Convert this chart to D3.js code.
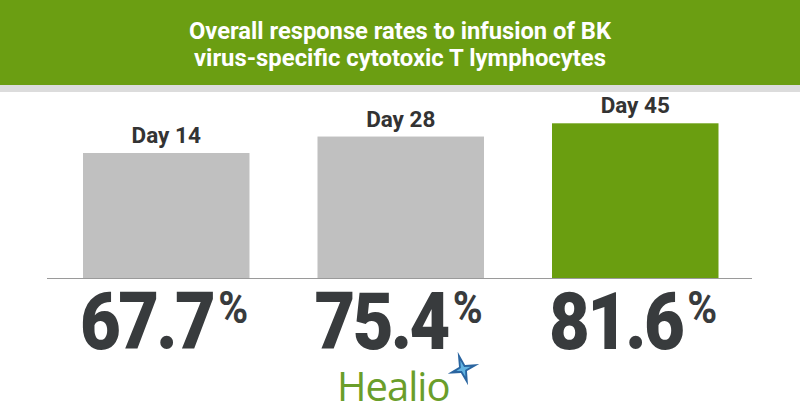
<!DOCTYPE html>
<html><head><meta charset="utf-8">
<script src="https://cdn.jsdelivr.net/npm/d3@7"></script>
<style>html,body{margin:0;padding:0;background:#fff;}svg{display:block;}</style>
</head><body>
<svg id="chart" width="800" height="420"></svg>
<script>
const categories = ["Day 14", "Day 28", "Day 45"];
const values = [67.7, 75.4, 81.6];
const valueLabels = ["67.7", "75.4", "81.6"];
const barColors = ["#c0c0c0", "#c0c0c0", "#6a9e10"];
const titleLines = ["Overall response rates to infusion of BK", "virus-specific cytotoxic T lymphocytes"];

const svg = d3.select("#chart");
const W = 800, H = 420;

// header
svg.append("rect").attr("x",0).attr("y",0).attr("width",W).attr("height",85).attr("fill","#6b9e12");
svg.append("rect").attr("x",0).attr("y",85).attr("width",W).attr("height",7).attr("fill","#dcdcdc");

const titleLens = [422, 412];
svg.selectAll("text.title").data(titleLines).join("text")
  .attr("class","title")
  .attr("x",400).attr("y",(d,i)=>39 + i*27)
  .attr("text-anchor","middle")
  .attr("font-family","Roboto, 'Open Sans', sans-serif")
  .attr("font-weight",700)
  .attr("font-size",23.5)
  .attr("fill","#ffffff")
  .attr("textLength",(d,i)=>titleLens[i])
  .attr("lengthAdjust","spacingAndGlyphs")
  .text(d=>d);

// scales
const x = d3.scaleBand().domain(categories).range([83, 718.5]).paddingInner(0.29).paddingOuter(0);
const baseY = 278;
const y = d3.scaleLinear().domain([9.2, 81.6]).range([baseY, 123.3]);

const g = svg.append("g");
g.selectAll("rect.bar").data(values).join("rect")
  .attr("class","bar")
  .attr("x",(d,i)=>x(categories[i]))
  .attr("y",d=>y(d))
  .attr("width",x.bandwidth())
  .attr("height",d=>baseY - y(d))
  .attr("fill",(d,i)=>barColors[i]);

// baseline
svg.append("line").attr("x1",47).attr("x2",752).attr("y1",baseY+0.5).attr("y2",baseY+0.5)
  .attr("stroke","#9a9a9a").attr("stroke-width",1.2);

// category labels
g.selectAll("text.cat").data(categories).join("text")
  .attr("class","cat")
  .attr("x",d=>x(d)+x.bandwidth()/2)
  .attr("y",(d,i)=>y(values[i]) - 10)
  .attr("text-anchor","middle")
  .attr("font-family","Roboto, sans-serif")
  .attr("font-weight",700)
  .attr("font-size",22.5)
  .attr("fill","#333333")
  .text(d=>d);

// value labels
const sx = 0.88;
valueLabels.forEach((v,i)=>{
  const x0 = x(categories[i]) - 3;
  const t = svg.append("text")
    .attr("transform",`translate(${x0},349) scale(${sx},1)`)
    .attr("font-family","Roboto, sans-serif")
    .attr("font-weight",900)
    .attr("font-size",80)
    .attr("letter-spacing",-3)
    .attr("fill","#383b3d")
    .text(v);
  const w = t.node().getComputedTextLength()*sx;
  svg.append("text")
    .attr("transform",`translate(${x0 + w + 5},323) scale(0.9,1)`)
    .attr("font-family","Roboto, sans-serif")
    .attr("font-weight",700)
    .attr("font-size",45)
    .attr("fill","#383b3d")
    .text("%");
});

// Healio logo
svg.append("text").attr("x",337).attr("y",401)
  .attr("font-family","'Open Sans', sans-serif")
  .attr("font-weight",400)
  .attr("font-size",40)
  .attr("fill","#6a9e2a")
  .attr("letter-spacing",-1)
  .text("Healio");
// star
const cx = 463, cy = 369;
const star = (R, r, rot) => {
  const pts = [];
  for (let k=0;k<8;k++){
    const a = rot + k*Math.PI/4;
    const rr = k%2===0 ? R[k/2] : r;
    pts.push([cx + rr*Math.cos(a), cy + rr*Math.sin(a)]);
  }
  return "M" + pts.map(p=>p.join(",")).join("L") + "Z";
};
svg.append("path").attr("d", star([18,17,17,16], 4.5, -Math.PI/2 - 0.3)).attr("fill","#2a65a0");
svg.append("path").attr("d", star([9,8,8,7], 2.4, -Math.PI/2 - 0.3)).attr("fill","#62b4e2");
</script>
</body></html>
